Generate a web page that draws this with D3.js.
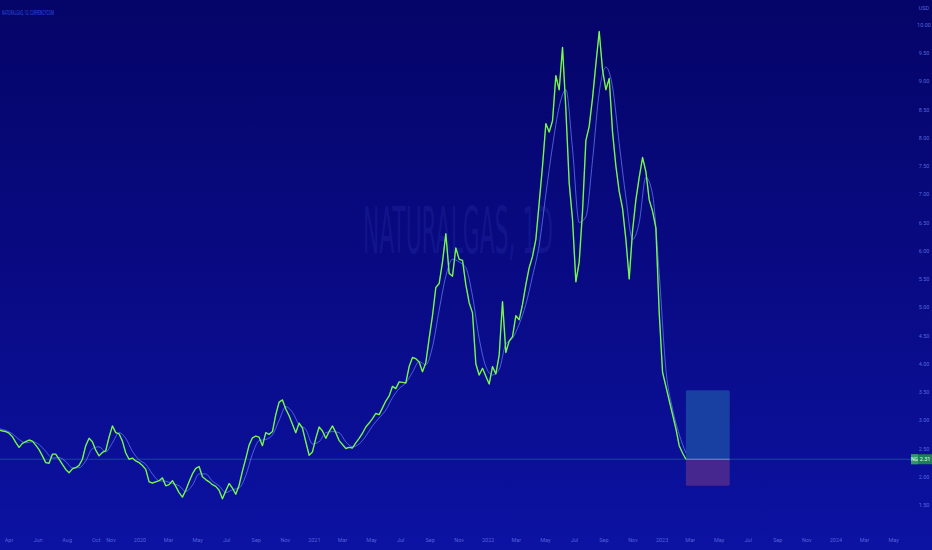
<!DOCTYPE html>
<html><head><meta charset="utf-8">
<script src="https://cdn.jsdelivr.net/npm/d3@7"></script>
<style>html,body{margin:0;padding:0;background:#08087a;} svg{display:block}</style>
</head><body><svg id="c" width="932" height="550"></svg>
<script>
// ---- data ----
const symbolTitle = "NATURALGAS, 1D, CURRENCYCOM";
const watermarkText = "NATURALGAS, 1D";
const currencyLabel = "USD";
const symbolShort = "NG";
const firstWeek = "2019-03-11";           // weekly closes start
const closes = [
 2.83,2.81,2.80,2.77,2.71,2.61,2.52,2.59,2.62,2.65,
 2.63,2.56,2.48,2.37,2.25,2.24,2.40,2.40,2.31,2.22,
 2.13,2.07,2.14,2.16,2.20,2.31,2.55,2.68,2.62,2.47,
 2.37,2.43,2.46,2.70,2.90,2.78,2.76,2.63,2.42,2.31,
 2.33,2.28,2.25,2.20,2.13,1.91,1.89,1.91,1.93,1.98,
 1.84,1.86,1.93,1.83,1.72,1.64,1.76,1.91,2.05,2.15,
 2.18,2.00,1.95,1.91,1.86,1.83,1.76,1.61,1.75,1.88,
 1.80,1.69,1.85,2.10,2.32,2.56,2.69,2.72,2.70,2.55,
 2.78,2.75,2.80,3.10,3.32,3.36,3.20,3.08,2.93,2.78,
 2.95,2.86,2.62,2.38,2.44,2.68,2.88,2.81,2.68,2.80,
 2.90,2.78,2.64,2.57,2.50,2.52,2.51,2.60,2.68,2.77,
 2.88,2.95,3.03,3.12,3.10,3.22,3.34,3.43,3.60,3.56,
 3.68,3.67,3.66,3.95,4.11,4.09,4.03,3.86,4.02,4.45,
 4.85,5.35,5.42,5.80,6.30,5.60,5.55,6.05,5.85,5.83,
 5.40,5.08,4.90,4.00,3.80,3.92,3.78,3.64,3.95,3.82,
 4.15,5.10,4.20,4.40,4.48,4.85,4.78,5.05,5.40,5.70,
 5.90,6.20,6.85,7.50,8.25,8.10,8.30,9.10,8.85,9.60,
 8.50,7.20,6.55,5.45,5.80,6.70,7.95,8.20,8.70,9.30,
 9.88,9.20,8.85,9.05,8.10,7.50,7.05,6.75,6.20,5.50,
 6.35,6.90,7.30,7.65,7.40,6.90,6.70,6.40,4.90,3.85,
 3.60,3.35,3.10,2.85,2.55,2.42,2.31];
const maFirst = "2019-03-11";              // moving average, every two weeks
const maValues = [
 2.85,2.82,2.76,2.66,2.60,2.62,2.57,2.45,2.33,2.34,
 2.27,2.16,2.16,2.28,2.50,2.53,2.44,2.60,2.78,2.68,
 2.45,2.30,2.22,2.05,1.93,1.92,1.88,1.84,1.74,1.85,
 2.05,2.05,1.92,1.84,1.72,1.77,1.80,2.02,2.40,2.64,
 2.66,2.74,3.00,3.24,3.14,2.92,2.84,2.58,2.62,2.78,
 2.80,2.78,2.62,2.53,2.58,2.72,2.90,3.04,3.18,3.40,
 3.56,3.66,3.85,4.04,3.98,4.30,4.95,5.55,5.85,5.80,
 5.70,5.20,4.45,3.95,3.80,3.90,4.35,4.45,4.70,5.05,
 5.55,6.10,7.00,7.85,8.55,8.85,7.80,6.50,6.60,7.60,
 8.80,9.25,8.90,7.90,6.95,6.20,6.50,7.30,7.00,5.60,
 3.90,3.20,2.75,2.42];
const yTicks = [10,9.5,9,8.5,8,7.5,7,6.5,6,5.5,5,4.5,4,3.5,3,2.5,2,1.5];
const xTickDates = ["2019-04-01","2019-06-01","2019-08-01","2019-10-01","2019-11-01",
 "2020-01-01","2020-03-01","2020-05-01","2020-07-01","2020-09-01","2020-11-01",
 "2021-01-01","2021-03-01","2021-05-01","2021-07-01","2021-09-01","2021-11-01",
 "2022-01-01","2022-03-01","2022-05-01","2022-07-01","2022-09-01","2022-11-01",
 "2023-01-01","2023-03-01","2023-05-01","2023-07-01","2023-09-01","2023-11-01",
 "2024-01-01","2024-03-01","2024-05-01"];
const xTickLabels = ["Apr","Jun","Aug","Oct","Nov",
 "2020","Mar","May","Jul","Sep","Nov",
 "2021","Mar","May","Jul","Sep","Nov",
 "2022","Mar","May","Jul","Sep","Nov",
 "2023","Mar","May","Jul","Sep","Nov",
 "2024","Mar","May"];
const positionStart = "2023-02-20", positionEnd = "2023-05-23";
const positionEntry = 2.31, positionTarget = 3.53, positionStop = 1.84;

// ---- drawing ----
const W = 932, H = 550, plotW = 905;
const svg = d3.select("#c");
const parse = d3.utcParse("%Y-%m-%d");
const defs = svg.append("defs");
const g = defs.append("linearGradient").attr("id","bg").attr("x1",0).attr("y1",0).attr("x2",0).attr("y2",1);
g.append("stop").attr("offset","0%").attr("stop-color","#050468");
g.append("stop").attr("offset","55%").attr("stop-color","#090b86");
g.append("stop").attr("offset","100%").attr("stop-color","#0c12a2");
svg.append("rect").attr("width",W).attr("height",H).attr("fill","url(#bg)");

const x = d3.scaleUtc().domain([parse("2019-03-13"), parse("2024-05-25")]).range([0, plotW]);
const y = d3.scaleLinear().domain([1.5, 10]).range([505, 24.75]);

const dayMs = 86400000;
const priceData = closes.map((v,i)=>({d:new Date(parse(firstWeek).getTime()+i*7*dayMs), v}));
const maData = maValues.map((v,i)=>({d:new Date(parse(maFirst).getTime()+i*14*dayMs), v}));

// watermark
svg.append("text").attr("x",458).attr("y",253).attr("text-anchor","middle")
  .attr("font-family","'Liberation Sans Narrow','DejaVu Sans Condensed',Roboto,sans-serif")
  .attr("font-size",64).attr("textLength",190).attr("lengthAdjust","spacingAndGlyphs")
  .attr("fill","#3a46c8").attr("fill-opacity",0.2).text(watermarkText);

// title
svg.append("text").attr("x",2).attr("y",15)
  .attr("font-family","'Liberation Sans Narrow',Roboto,sans-serif").attr("font-size",7.5)
  .attr("textLength",52).attr("lengthAdjust","spacingAndGlyphs")
  .attr("fill","#3157ee").attr("fill-opacity",0.9).text(symbolTitle);

// current price line
const lastVal = closes[closes.length-1];
svg.append("line").attr("x1",0).attr("x2",911).attr("y1",y(lastVal)).attr("y2",y(lastVal))
  .attr("stroke","#2c8fa8").attr("stroke-opacity",0.55).attr("stroke-width",0.8);

// position tool
const px0 = x(parse(positionStart)), px1 = x(parse(positionEnd));
svg.append("rect").attr("x",px0).attr("y",y(positionTarget)).attr("width",px1-px0)
  .attr("height",y(positionEntry)-y(positionTarget)).attr("rx",1.5)
  .attr("fill","#1a46a4").attr("fill-opacity",0.9);
svg.append("rect").attr("x",px0).attr("y",y(positionEntry)).attr("width",px1-px0)
  .attr("height",y(positionStop)-y(positionEntry)).attr("rx",1.5)
  .attr("fill","#4c2a8e").attr("fill-opacity",0.9);
svg.append("line").attr("x1",px0).attr("x2",px1).attr("y1",y(positionEntry)).attr("y2",y(positionEntry))
  .attr("stroke","#8fa2d8").attr("stroke-width",0.8);

// MA line
svg.append("path").datum(maData)
  .attr("d", d3.line().x(d=>x(d.d)).y(d=>y(d.v)).curve(d3.curveMonotoneX))
  .attr("fill","none").attr("stroke","#6d86ff").attr("stroke-width",0.8).attr("stroke-opacity",0.85);

// price line
const pl = d3.line().x(d=>x(d.d)).y(d=>y(d.v));
svg.append("path").datum(priceData).attr("d",pl)
  .attr("fill","none").attr("stroke","#5fef36").attr("stroke-width",1.4).attr("stroke-linejoin","round");
svg.append("path").datum(priceData).attr("d",pl)
  .attr("fill","none").attr("stroke","#c9ffb0").attr("stroke-width",0.4).attr("stroke-opacity",0.7);

// right axis
const ya = svg.append("g").attr("font-family","Roboto,'Liberation Sans',sans-serif").attr("font-size",5.5)
  .attr("fill","#6b80f0").attr("fill-opacity",0.8);
ya.selectAll("text.t").data(yTicks).join("text").attr("class","t")
  .attr("x",924).attr("y",d=>y(d)+2).attr("text-anchor","middle").text(d=>d3.format(".2f")(d));
ya.append("text").attr("x",924).attr("y",10).attr("text-anchor","middle").text(currencyLabel);

// price label
const ly = y(lastVal);
svg.append("rect").attr("x",911).attr("y",ly-5).attr("width",21).attr("height",10).attr("fill","#1d7f57");
svg.append("rect").attr("x",911).attr("y",ly-5).attr("width",7).attr("height",10).attr("fill","#2e9a6c");
svg.append("text").attr("x",914.5).attr("y",ly+2).attr("text-anchor","middle").attr("font-size",5)
  .attr("font-family","Roboto,sans-serif").attr("fill","#e8fff0").text(symbolShort);
svg.append("text").attr("x",925).attr("y",ly+2).attr("text-anchor","middle").attr("font-size",5.5)
  .attr("font-family","Roboto,sans-serif").attr("fill","#e8fff0").text(d3.format(".2f")(lastVal));

// bottom axis
const xa = svg.append("g").attr("font-family","Roboto,'Liberation Sans',sans-serif").attr("font-size",5.5)
  .attr("fill","#6b80f0").attr("fill-opacity",0.75);
xa.selectAll("text").data(xTickDates.map((d,i)=>({d:parse(d), l:xTickLabels[i]}))).join("text")
  .attr("x",d=>x(d.d)).attr("y",542).attr("text-anchor","middle").text(d=>d.l);
</script></body></html>
